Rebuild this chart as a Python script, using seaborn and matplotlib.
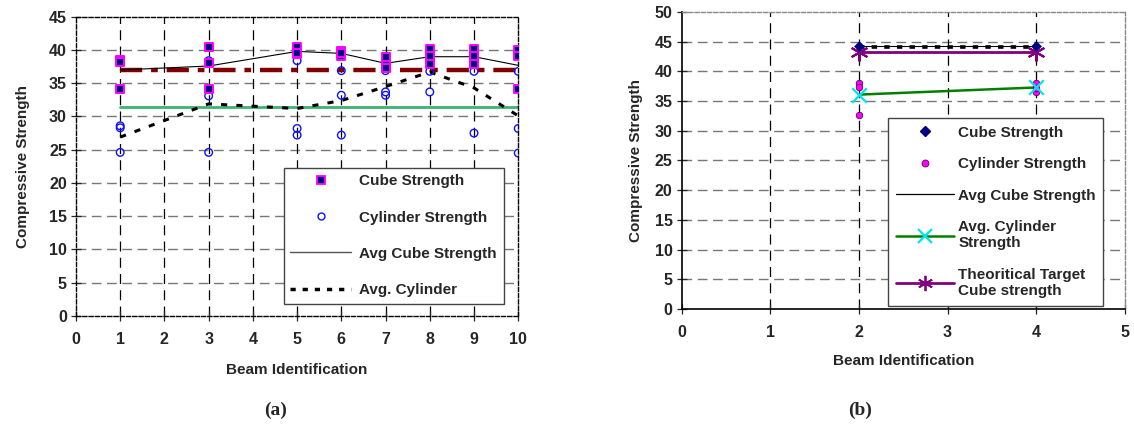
import numpy as np
import pandas as pd
import matplotlib
matplotlib.use("Agg")
import matplotlib.pyplot as plt
import seaborn as sns
from matplotlib.lines import Line2D

# ---------------- data (a) ----------------
beams_a = [1, 3, 5, 6, 7, 8, 9, 10]
cube_a = [[38.5, 38.2, 34.2], [40.5, 38.1, 34.2], [40.5, 39.4, 39.5], [39.8, 39.1, 39.6],
          [39.0, 37.7, 37.3], [40.2, 39.1, 37.9], [40.2, 39.1, 37.9], [40.0, 39.1, 34.2]]
cyl_a = [[28.6, 28.3, 24.6], [38.4, 33.1, 24.6], [38.4, 28.2, 27.2], [36.9, 33.2, 27.2],
         [36.9, 33.7, 33.2], [38.3, 36.8, 33.7], [38.3, 36.8, 27.5], [36.8, 28.2, 24.5]]
avg_cube_a = [37.0, 37.6, 39.8, 39.5, 38.0, 39.0, 39.0, 37.7]
avg_cyl_a = [26.9, 31.9, 31.2, 32.4, 34.5, 36.7, 34.3, 30.1]
ref_cube_a = [37.0, 37.0]
ref_cyl_a = [31.4, 31.4]
ref_x_a = [1, 10]

# ---------------- data (b) ----------------
beams_b = [2, 4]
cube_b = [44.3, 44.3]
cyl_b = [[38.1, 32.7, 37.3], [38.1, 36.6, 37.2]]
avg_cube_b = [44.3, 44.3]
avg_cube_dot_b = [44.1, 44.1]
avg_cyl_b = [36.1, 37.3]
target_b = [43.3, 43.3]

xticks_a = list(range(0, 11))
yticks_a = list(range(0, 46, 5))
xticks_b = list(range(0, 6))
yticks_b = list(range(0, 51, 5))

sns.set_style("white")
plt.rcParams['font.family'] = ['Liberation Sans', 'DejaVu Sans']
plt.rcParams['font.weight'] = 'bold'

fig = plt.figure(figsize=(11.34, 4.32), dpi=100)
axA = fig.add_axes([0.067, 0.269, 0.390, 0.692])
axB = fig.add_axes([0.601, 0.285, 0.391, 0.687])

def long(beams, vals):
    xs, ys = [], []
    for b, v in zip(beams, vals):
        for y in v:
            xs.append(b); ys.append(y)
    return pd.DataFrame({"beam": xs, "val": ys})

def style_grid(ax, xt, yt, pad_x):
    ax.set_xticks(xt); ax.set_yticks(yt)
    ax.set_axisbelow(True)
    for y in yt[1:-1]:
        ax.axhline(y, color='#777777', lw=1.0, ls=(0, (7, 4)), zorder=0)
    for x in xt[1:-1]:
        ax.axvline(x, color='black', lw=0.9, ls=(0, (8, 5)), zorder=0)
    ax.tick_params(axis='both', direction='inout', length=7, width=0.9,
                   labelsize=11.5, pad=3, bottom=True, left=True)
    ax.tick_params(axis='x', pad=pad_x)
    for lab in ax.get_xticklabels() + ax.get_yticklabels():
        lab.set_fontweight('bold')

# ---------------- panel (a) ----------------
dfc = long(beams_a, cube_a)
dfy = long(beams_a, cyl_a)
sns.lineplot(x=ref_x_a, y=ref_cyl_a, ax=axA, color='#3CB371', lw=2.0, zorder=2)
sns.lineplot(x=ref_x_a, y=ref_cube_a, ax=axA, color='#800000', lw=3.2,
             dashes=False, zorder=2).lines[-1].set_linestyle((0, (5, 2, 1.5, 2)))
sns.lineplot(x=beams_a, y=avg_cyl_a, ax=axA, color='black', lw=2.2, sort=False,
             estimator=None, zorder=3).lines[-1].set_linestyle((0, (2, 3)))
sns.lineplot(x=beams_a, y=avg_cube_a, ax=axA, color='black', lw=0.8, sort=False,
             estimator=None, zorder=3)
sns.scatterplot(data=dfy, x="beam", y="val", ax=axA, marker='o', s=30,
                facecolor='none', edgecolor='#1010FF', linewidth=1.0, zorder=4)
sns.scatterplot(data=dfc, x="beam", y="val", ax=axA, marker='s', s=34,
                color='#000080', edgecolor='#FF00FF', linewidth=1.4, zorder=5)
axA.set_xlim(0, 10); axA.set_ylim(0, 45)
style_grid(axA, xticks_a, yticks_a, 8)
for s in axA.spines.values():
    s.set_linestyle((0, (3, 1.5)))
    s.set_color('black'); s.set_linewidth(1.0)
axA.set_xlabel("Beam Identification", fontsize=11, fontweight='bold', labelpad=12)
axA.set_ylabel("Compressive Strength", fontsize=11, fontweight='bold', labelpad=14)

hA = [Line2D([], [], ls='', marker='s', ms=6, mfc='#000080', mec='#FF00FF', mew=1.3),
      Line2D([], [], ls='', marker='o', ms=5, mfc='none', mec='#1010FF', mew=1.0),
      Line2D([], [], color='#555555', lw=1.0),
      Line2D([], [], color='black', lw=2.5, ls=(0, (1.5, 2)))]
lA = ["Cube Strength", "Cylinder Strength", "Avg Cube Strength", "Avg. Cylinder"]
legA = axA.legend(hA, lA, loc='upper left', bbox_to_anchor=(0.250, 0.612),
                  bbox_transform=fig.transFigure, fancybox=False, framealpha=1,
                  edgecolor='#444444', prop={'weight': 'bold', 'size': 11},
                  labelspacing=1.45, handlelength=4.0, borderpad=0.45, handletextpad=0.5,
                  borderaxespad=0)
legA.get_frame().set_linewidth(1.0)

# ---------------- panel (b) ----------------
dfb = long(beams_b, cyl_b)
sns.lineplot(x=beams_b, y=avg_cube_dot_b, ax=axB, color='black', lw=2.6,
             estimator=None, zorder=3).lines[-1].set_linestyle((0, (1.5, 2)))
sns.lineplot(x=beams_b, y=avg_cube_b, ax=axB, color='black', lw=0.8,
             estimator=None, zorder=3)
sns.lineplot(x=beams_b, y=target_b, ax=axB, color='#800080', lw=2.0, estimator=None,
             marker=(6, 2, 0), markersize=13, markeredgewidth=1.5,
             markeredgecolor='#800080', zorder=4)
sns.lineplot(x=beams_b, y=avg_cyl_b, ax=axB, color='#008000', lw=1.8, estimator=None,
             zorder=4)
sns.scatterplot(data=dfb, x="beam", y="val", ax=axB, marker='o', s=22,
                color='#FF00FF', edgecolor='#600060', linewidth=0.6, zorder=5)
sns.scatterplot(x=beams_b, y=avg_cyl_b, ax=axB, marker='x', s=110, color='#00E5EE',
                linewidth=1.6, zorder=6)
sns.scatterplot(x=beams_b, y=cube_b, ax=axB, marker='D', s=26, color='#000080',
                edgecolor='#000080', zorder=6)
axB.set_xlim(0, 5); axB.set_ylim(0, 50)
style_grid(axB, xticks_b, yticks_b, 8)
for k in ['left', 'bottom']:
    axB.spines[k].set_color('black'); axB.spines[k].set_linewidth(1.2)
for k in ['top', 'right']:
    axB.spines[k].set_color('#888888'); axB.spines[k].set_linewidth(1.0)
    axB.spines[k].set_linestyle((0, (3, 1.5)))
axB.set_xlabel("Beam Identification", fontsize=11, fontweight='bold', labelpad=10)
axB.set_ylabel("Compressive Strength", fontsize=11, fontweight='bold', labelpad=8)

hB = [Line2D([], [], ls='', marker='D', ms=5, mfc='#000080', mec='#000080'),
      Line2D([], [], ls='', marker='o', ms=5, mfc='#FF00FF', mec='#600060', mew=0.6),
      Line2D([], [], color='black', lw=0.9),
      Line2D([], [], color='#008000', lw=1.8, marker='x', ms=10, mec='#00E5EE', mew=1.6),
      Line2D([], [], color='#800080', lw=2.0, marker=(6, 2, 0), ms=11, mec='#800080', mew=1.3)]
lB = ["Cube Strength", "Cylinder Strength", "Avg Cube Strength",
      "Avg. Cylinder\nStrength", "Theoritical Target\nCube strength"]
legB = axB.legend(hB, lB, loc='upper left', bbox_to_anchor=(0.783, 0.727),
                  bbox_transform=fig.transFigure, fancybox=False, framealpha=1,
                  edgecolor='#444444', prop={'weight': 'bold', 'size': 11},
                  labelspacing=1.15, handlelength=3.8, borderpad=0.5, handletextpad=0.3,
                  borderaxespad=0)
legB.get_frame().set_linewidth(1.0)

fig.text(0.243, 0.05, "(a)", ha='center', va='center', fontsize=14, fontweight='bold',
         family='Liberation Serif')
fig.text(0.758, 0.05, "(b)", ha='center', va='center', fontsize=14, fontweight='bold',
         family='Liberation Serif')

fig.savefig("out.png", dpi=100)
